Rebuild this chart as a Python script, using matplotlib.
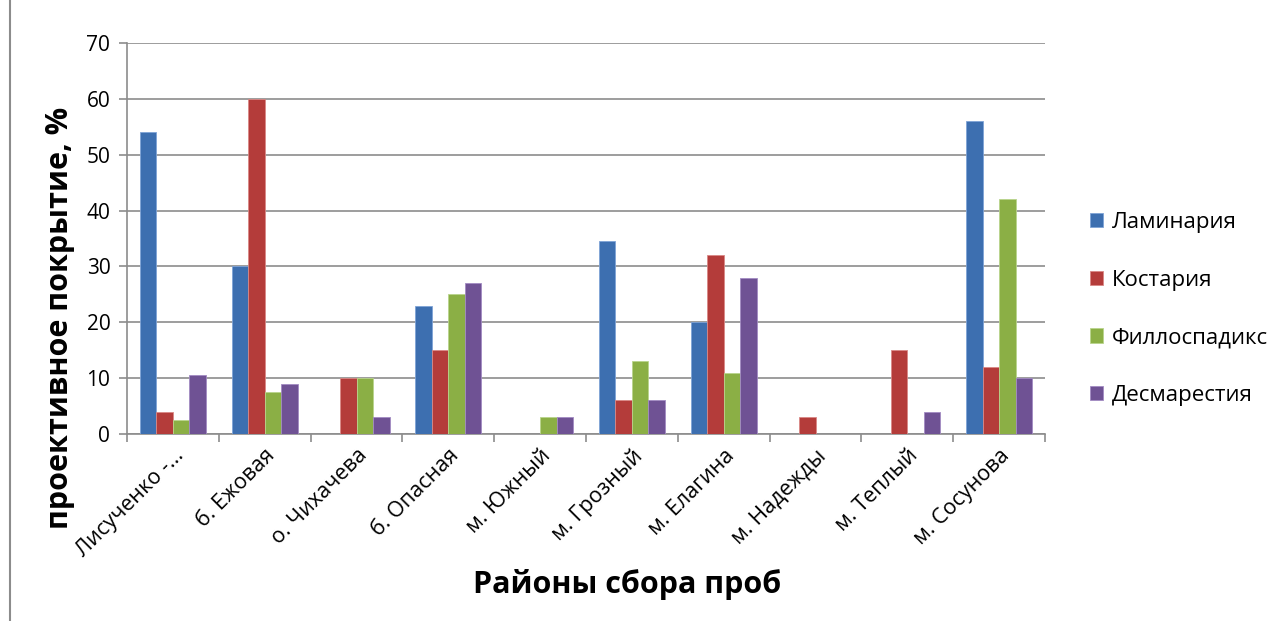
import matplotlib
matplotlib.use("Agg")
import matplotlib.pyplot as plt
import numpy as np
from matplotlib.lines import Line2D

plt.rcParams['font.family'] = ['Open Sans', 'DejaVu Sans']

categories = ["Лисученко -...", "б. Ежовая", "о. Чихачева", "б. Опасная", "м. Южный",
              "м. Грозный", "м. Елагина", "м. Надежды", "м. Теплый", "м. Сосунова"]
series_names = ["Ламинария", "Костария", "Филлоспадикс", "Десмарестия"]
laminaria = [54, 30, 0, 23, 0, 34.5, 20, 0, 0, 56]
kostaria = [4, 60, 10, 15, 0, 6, 32, 3, 15, 12]
fillospadix = [2.5, 7.5, 10, 25, 3, 13, 11, 0, 0, 42]
desmarestia = [10.5, 9, 3, 27, 3, 6, 28, 0, 4, 10]
yticks = [0, 10, 20, 30, 40, 50, 60, 70]

colors = ["#3D6FB0", "#B43C3A", "#8BAF45", "#6F5294"]
edges = ["#7FA3D6", "#D98886", "#B9D48C", "#A28BC2"]

W, H = 1286, 621
fig = plt.figure(figsize=(W / 100, H / 100), dpi=100)
ax = fig.add_axes([127 / W, 1 - 434 / H, (1045 - 127) / W, (434 - 43) / H])

x = np.arange(len(categories))
bw = 0.18
data = [laminaria, kostaria, fillospadix, desmarestia]
handles = []
for i, (vals, c, e, name) in enumerate(zip(data, colors, edges, series_names)):
    b = ax.bar(x + (i - 1.5) * bw, vals, bw, color=c, edgecolor=e, linewidth=0.6,
               label=name, zorder=3)
    handles.append(b)

ax.set_xlim(-0.5, len(categories) - 0.5)
ax.set_ylim(0, 70)
ax.set_yticks(yticks)
ax.set_yticklabels([str(v) for v in yticks], fontsize=15)
ax.yaxis.grid(True, color="#8C8C8C", linewidth=1.2, zorder=0)
ax.set_axisbelow(True)

ax.set_xticks(np.arange(-0.5, len(categories) + 0.5, 1), minor=False)
ax.set_xticklabels([])
ax.set_xticks(x, minor=True)
ax.set_xticklabels(categories, minor=True, rotation=45, ha="right", va="top",
                   rotation_mode="anchor", fontsize=15.5)
ax.tick_params(axis="x", which="minor", length=0, pad=8)
ax.tick_params(axis="x", which="major", length=6, color="#8C8C8C", width=1.2)
ax.tick_params(axis="y", length=6, color="#8C8C8C", width=1.2, pad=6)

for s in ["top", "right"]:
    ax.spines[s].set_visible(False)
for s in ["left", "bottom"]:
    ax.spines[s].set_color("#8C8C8C")
    ax.spines[s].set_linewidth(1.2)

fig.text(627 / W, 1 - 585 / H, "Районы сбора проб", ha="center", va="center",
         fontsize=22, fontweight="bold")
fig.text(60 / W, 1 - 318 / H, "проективное покрытие, %", ha="center", va="center",
         rotation=90, fontsize=22, fontweight="bold")

leg = fig.legend(handles=handles, labels=series_names, loc="upper left",
                 bbox_to_anchor=(1070 / W, 1 - 192 / H), frameon=False, fontsize=16,
                 handlelength=0.6, handleheight=0.6, handletextpad=0.4,
                 labelspacing=1.65)

fig.add_artist(Line2D([10 / W, 10 / W], [0, 1], transform=fig.transFigure,
                      color="#8C8C8C", linewidth=1.5))

fig.savefig("out.png", dpi=100)
